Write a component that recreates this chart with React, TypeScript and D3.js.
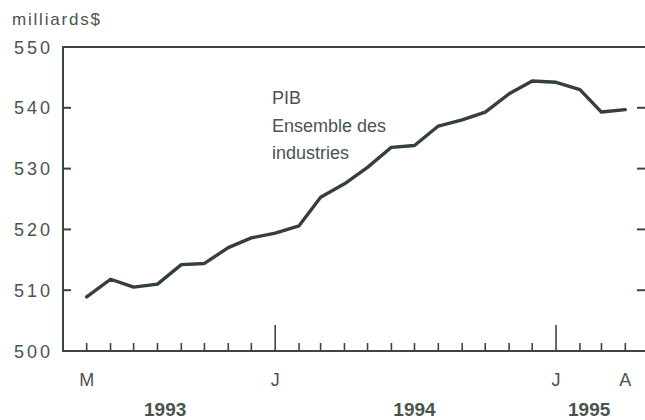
import { useRef, useEffect } from 'react';
import * as d3 from 'd3';

// monthly GDP, all industries, May 1993 - April 1995 (billions $)
const months = [
  '1993-05', '1993-06', '1993-07', '1993-08', '1993-09', '1993-10', '1993-11', '1993-12',
  '1994-01', '1994-02', '1994-03', '1994-04', '1994-05', '1994-06', '1994-07', '1994-08',
  '1994-09', '1994-10', '1994-11', '1994-12', '1995-01', '1995-02', '1995-03', '1995-04',
];
const gdp = [
  508.9, 511.8, 510.5, 511.0, 514.2, 514.4, 517.0, 518.6,
  519.4, 520.6, 525.3, 527.5, 530.2, 533.5, 533.8, 537.0,
  538.0, 539.3, 542.3, 544.4, 544.2, 543.0, 539.3, 539.7,
];
const yTicks = [500, 510, 520, 530, 540, 550];
const monthLabels = [
  { month: '1993-05', label: 'M' },
  { month: '1994-01', label: 'J' },
  { month: '1995-01', label: 'J' },
  { month: '1995-04', label: 'A' },
];
const years = [
  { year: '1993', at: '1993-08-11' },
  { year: '1994', at: '1994-07-01' },
  { year: '1995', at: '1995-02-13' },
];
const seriesLabel = ['PIB', 'Ensemble des', 'industries'];

export default function App() {
  const ref = useRef<HTMLDivElement>(null);

  useEffect(() => {
    if (!ref.current) return;
    const width = 645;
    const height = 420;
    const ink = '#3b4640';
    const textCol = '#4a544e';
    const font = 'Liberation Sans, Arial, sans-serif';

    d3.select(ref.current).selectAll('*').remove();

    const svg = d3.select(ref.current)
      .append('svg')
      .attr('width', width)
      .attr('height', height)
      .style('display', 'block')
      .style('background', '#fff');

    const parse = d3.timeParse('%Y-%m');
    const parseDay = d3.timeParse('%Y-%m-%d');
    const left = 63;
    const right = 645;
    const top = 47;
    const bottom = 351;

    const x = d3.scaleTime()
      .domain([parse('1993-04')!, parse('1995-05')!])
      .range([63.6, 648.4]);
    const y = d3.scaleLinear().domain([500, 550]).range([bottom, top]);

    // frame: left axis, top line, baseline
    svg.append('path')
      .attr('d', `M${right},${top}H${left}V${bottom}H${right}`)
      .attr('fill', 'none')
      .attr('stroke', ink)
      .attr('stroke-width', 2);

    // y ticks, left and right, pointing inward
    yTicks.slice(1, -1).forEach((v) => {
      svg.append('line')
        .attr('x1', left).attr('x2', left + 8)
        .attr('y1', y(v)).attr('y2', y(v))
        .attr('stroke', ink).attr('stroke-width', 2);
      svg.append('line')
        .attr('x1', right - 8).attr('x2', right)
        .attr('y1', y(v)).attr('y2', y(v))
        .attr('stroke', ink).attr('stroke-width', 2);
    });

    svg.selectAll('.ylab')
      .data(yTicks)
      .enter()
      .append('text')
      .attr('x', 50)
      .attr('y', (d) => y(d) + 6.5)
      .attr('text-anchor', 'end')
      .attr('textLength', 36)
      .style('font-family', font)
      .style('font-size', '18px')
      .style('fill', textCol)
      .text((d) => d);

    svg.append('text')
      .attr('x', 12)
      .attr('y', 25)
      .attr('textLength', 88)
      .style('font-family', font)
      .style('font-size', '17px')
      .style('fill', textCol)
      .text('milliards$');

    // month ticks, taller at January
    svg.selectAll('.xtick')
      .data(months)
      .enter()
      .append('line')
      .attr('x1', (d) => x(parse(d)!))
      .attr('x2', (d) => x(parse(d)!))
      .attr('y1', bottom)
      .attr('y2', (d) => (d.endsWith('-01') ? bottom - 26 : bottom - 8))
      .attr('stroke', ink)
      .attr('stroke-width', 1.6);

    svg.selectAll('.xlab')
      .data(monthLabels)
      .enter()
      .append('text')
      .attr('x', (d) => x(parse(d.month)!))
      .attr('y', 386)
      .attr('text-anchor', 'middle')
      .style('font-family', font)
      .style('font-size', '18px')
      .style('fill', textCol)
      .text((d) => d.label);

    svg.selectAll('.year')
      .data(years)
      .enter()
      .append('text')
      .attr('x', (d) => x(parseDay(d.at)!))
      .attr('y', 416)
      .attr('text-anchor', 'middle')
      .style('font-family', font)
      .style('font-size', '19px')
      .style('font-weight', 'bold')
      .style('fill', textCol)
      .text((d) => d.year);

    const line = d3.line<number>()
      .x((_, i) => x(parse(months[i])!))
      .y((d) => y(d));

    svg.append('path')
      .attr('d', line(gdp))
      .attr('fill', 'none')
      .attr('stroke', '#344038')
      .attr('stroke-width', 3.4)
      .attr('stroke-linejoin', 'round')
      .attr('stroke-linecap', 'round');

    svg.selectAll('.serieslab')
      .data(seriesLabel)
      .enter()
      .append('text')
      .attr('x', 272)
      .attr('y', (_, i) => 104 + i * 27.5)
      .style('font-family', font)
      .style('font-size', '18px')
      .style('fill', textCol)
      .text((d) => d);
  }, []);

  return <div ref={ref} style={{ position: 'absolute', left: 0, top: 0 }} />;
}
